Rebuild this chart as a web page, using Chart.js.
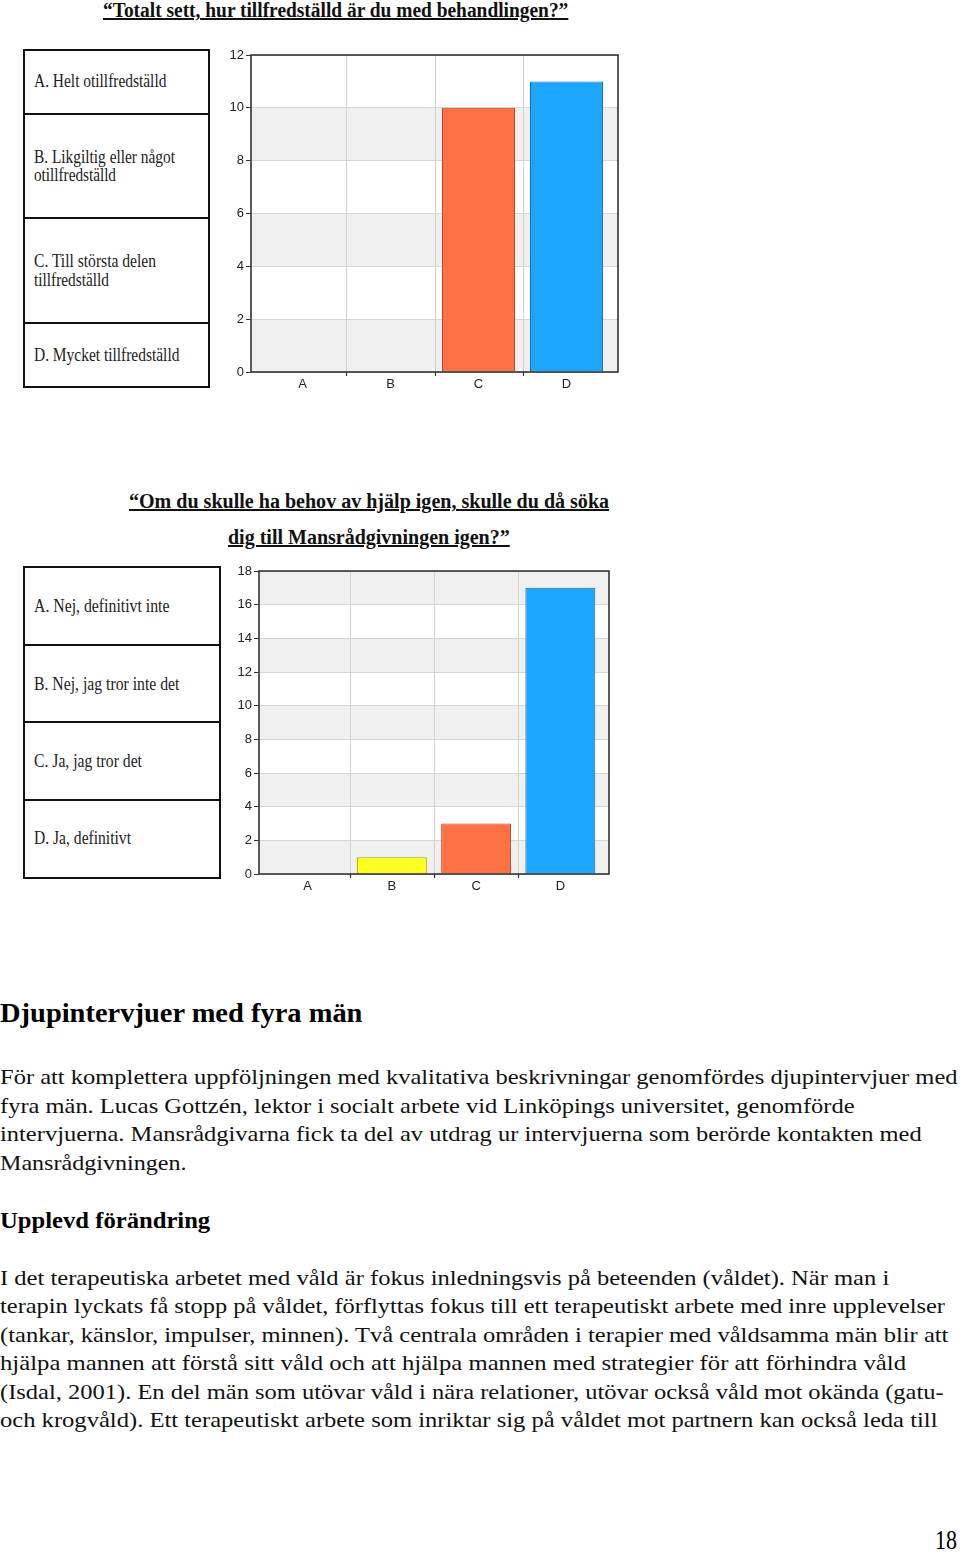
<!DOCTYPE html>
<html><head><meta charset="utf-8">
<script src="https://cdn.jsdelivr.net/npm/chart.js@4"></script>
<style>
body{margin:0;width:960px;height:1554px;position:relative;background:#fff;font-family:"Liberation Serif","Times New Roman",serif;color:#000;overflow:hidden}
.t{position:absolute;white-space:nowrap;transform-origin:0 0;line-height:1}
.title{font-weight:bold;font-size:20px;text-decoration:underline;color:#111}
.box{position:absolute;border:2px solid #111;box-sizing:border-box}
.hl{position:absolute;height:2px;background:#111}
.lbl{font-size:18px;color:#222}
.body{font-size:22px;color:#111}
.h1{font-size:28px;font-weight:bold}
.h2{font-size:23px;font-weight:bold}
.pn{font-size:27px}
canvas{position:absolute}
</style></head><body>

<div class="t title" data-x="103" data-y="12" data-w="465">“Totalt sett, hur tillfredställd är du med behandlingen?”</div>

<div class="box" style="left:23px;top:49px;width:187px;height:339px"></div>
<div class="hl" style="left:23px;top:113px;width:187px"></div>
<div class="hl" style="left:23px;top:217px;width:187px"></div>
<div class="hl" style="left:23px;top:322px;width:187px"></div>
<div class="t lbl" data-x="34" data-y="82" data-w="132">A. Helt otillfredställd</div>
<div class="t lbl" data-x="34" data-y="158" data-w="141">B. Likgiltig eller något</div>
<div class="t lbl" data-x="34" data-y="176" data-w="82">otillfredställd</div>
<div class="t lbl" data-x="34" data-y="262" data-w="122">C. Till största delen</div>
<div class="t lbl" data-x="34" data-y="281" data-w="75">tillfredställd</div>
<div class="t lbl" data-x="34" data-y="356" data-w="145">D. Mycket tillfredställd</div>

<canvas id="c1" width="440" height="360" style="left:200px;top:40px;width:440px;height:360px"></canvas>

<div class="t title" data-x="129" data-y="503" data-w="480">“Om du skulle ha behov av hjälp igen, skulle du då söka</div>
<div class="t title" data-x="228" data-y="539" data-w="282">dig till Mansrådgivningen igen?”</div>

<div class="box" style="left:23px;top:566px;width:198px;height:313px"></div>
<div class="hl" style="left:23px;top:644px;width:198px"></div>
<div class="hl" style="left:23px;top:721px;width:198px"></div>
<div class="hl" style="left:23px;top:799px;width:198px"></div>
<div class="t lbl" data-x="34" data-y="607" data-w="135">A. Nej, definitivt inte</div>
<div class="t lbl" data-x="34" data-y="685" data-w="145">B. Nej, jag tror inte det</div>
<div class="t lbl" data-x="34" data-y="762" data-w="108">C. Ja, jag tror det</div>
<div class="t lbl" data-x="34" data-y="839" data-w="97">D. Ja, definitivt</div>

<canvas id="c2" width="440" height="350" style="left:200px;top:555px;width:440px;height:350px"></canvas>

<div class="t h1" data-x="0" data-y="1015" data-w="362">Djupintervjuer med fyra män</div>
<div class="t body" data-x="0" data-y="1079" data-w="958">För att komplettera uppföljningen med kvalitativa beskrivningar genomfördes djupintervjuer med</div>
<div class="t body" data-x="0" data-y="1108" data-w="855">fyra män. Lucas Gottzén, lektor i socialt arbete vid Linköpings universitet, genomförde</div>
<div class="t body" data-x="0" data-y="1136" data-w="922">intervjuerna. Mansrådgivarna fick ta del av utdrag ur intervjuerna som berörde kontakten med</div>
<div class="t body" data-x="0" data-y="1165" data-w="186">Mansrådgivningen.</div>
<div class="t h2" data-x="0" data-y="1222" data-w="210">Upplevd förändring</div>
<div class="t body" data-x="0" data-y="1280" data-w="889">I det terapeutiska arbetet med våld är fokus inledningsvis på beteenden (våldet). När man i</div>
<div class="t body" data-x="0" data-y="1308" data-w="945">terapin lyckats få stopp på våldet, förflyttas fokus till ett terapeutiskt arbete med inre upplevelser</div>
<div class="t body" data-x="0" data-y="1337" data-w="948">(tankar, känslor, impulser, minnen). Två centrala områden i terapier med våldsamma män blir att</div>
<div class="t body" data-x="0" data-y="1365" data-w="906">hjälpa mannen att förstå sitt våld och att hjälpa mannen med strategier för att förhindra våld</div>
<div class="t body" data-x="0" data-y="1394" data-w="944">(Isdal, 2001). En del män som utövar våld i nära relationer, utövar också våld mot okända (gatu-</div>
<div class="t body" data-x="0" data-y="1422" data-w="937">och krogvåld). Ett terapeutiskt arbete som inriktar sig på våldet mot partnern kan också leda till</div>
<div class="t pn" data-x="935" data-y="1543" data-w="22">18</div>

<script>
// ---- data ----
const categories = ['A', 'B', 'C', 'D'];
const satisfactionValues = [0, 0, 10, 11];
const returnValues = [0, 1, 3, 17];
const satisfactionMax = 12;
const returnMax = 18;
const tickStep = 2;
const barColors = ['rgb(40,200,60)', 'rgb(255,255,32)', 'rgb(255,112,68)', 'rgb(30,166,255)'];
const barBorders = ['rgb(20,130,30)', 'rgb(170,170,0)', 'rgb(185,70,40)', 'rgb(20,110,190)'];

// ---- text fitting ----
document.querySelectorAll('.t').forEach(el => {
  const fs = parseFloat(getComputedStyle(el).fontSize);
  const w = el.offsetWidth;
  const tw = parseFloat(el.dataset.w);
  el.style.left = el.dataset.x + 'px';
  el.style.top = (parseFloat(el.dataset.y) - 0.58 * fs) + 'px';
  el.style.transform = 'scaleX(' + (tw / w) + ')';
});

// ---- chart helper plugin ----
const framePlugin = {
  id: 'frame',
  beforeDraw(chart) {
    const ctx = chart.ctx, a = chart.chartArea, y = chart.scales.y;
    ctx.save();
    ctx.fillStyle = '#f0f0f0';
    for (let v = 0; v < y.max; v += 2 * tickStep) {
      const top = y.getPixelForValue(Math.min(v + tickStep, y.max));
      const bot = y.getPixelForValue(v);
      ctx.fillRect(a.left, top, a.right - a.left, bot - top);
    }
    ctx.restore();
  },
  beforeDatasetsDraw(chart) {
    const ctx = chart.ctx, a = chart.chartArea, x = chart.scales.x;
    ctx.save();
    ctx.strokeStyle = '#d2d2d2';
    ctx.lineWidth = 1;
    for (let i = 0; i < categories.length - 1; i++) {
      const px = Math.round(x.getPixelForValue(i + 0.5)) + 0.5;
      ctx.beginPath(); ctx.moveTo(px, a.top); ctx.lineTo(px, a.bottom); ctx.stroke();
    }
    ctx.restore();
  },
  afterDraw(chart) {
    const ctx = chart.ctx, a = chart.chartArea, x = chart.scales.x;
    ctx.save();
    ctx.strokeStyle = '#333';
    ctx.lineWidth = 1.6;
    ctx.strokeRect(a.left, a.top, a.right - a.left, a.bottom - a.top);
    ctx.lineWidth = 1.2;
    for (let i = 0; i < categories.length - 1; i++) {
      const px = Math.round(x.getPixelForValue(i + 0.5)) + 0.5;
      ctx.beginPath(); ctx.moveTo(px, a.bottom); ctx.lineTo(px, a.bottom + 4); ctx.stroke();
    }
    ctx.restore();
  }
};

function makeChart(id, values, ymax, pad, xMargin, yW, xH) {
  new Chart(document.getElementById(id), {
    type: 'bar',
    data: {
      datasets: [{
        data: values.map((v, i) => ({ x: i, y: v })),
        backgroundColor: barColors,
        borderColor: barBorders,
        borderWidth: 1,
        barPercentage: 0.83,
        categoryPercentage: 1
      }]
    },
    options: {
      responsive: false,
      animation: false,
      devicePixelRatio: 1,
      layout: { padding: pad },
      plugins: { legend: { display: false }, tooltip: { enabled: false } },
      scales: {
        x: {
          type: 'linear',
          offset: false,
          min: -0.5 - xMargin,
          max: categories.length - 0.5 + xMargin,
          afterBuildTicks: s => { s.ticks = categories.map((c, i) => ({ value: i })); },
          afterFit: s => { s.height = xH; },
          grid: { display: false, drawTicks: false },
          border: { display: false },
          ticks: {
            callback: v => categories[v],
            font: { family: 'Liberation Sans', size: 13 },
            color: '#222',
            padding: 5,
            maxRotation: 0
          }
        },
        y: {
          min: 0,
          max: ymax,
          afterFit: s => { s.width = yW; },
          border: { display: false },
          grid: { color: '#d6d6d6', tickColor: '#333', tickLength: 5, lineWidth: 1 },
          ticks: {
            stepSize: tickStep,
            font: { family: 'Liberation Sans', size: 13 },
            color: '#222',
            padding: 2
          }
        }
      }
    },
    plugins: [framePlugin]
  });
}

makeChart('c1', satisfactionValues, satisfactionMax, { left: 11, top: 15, right: 22, bottom: 0 }, 0.085, 40, 28);
makeChart('c2', returnValues, returnMax, { left: 19, top: 16, right: 31, bottom: 0 }, 0.078, 40, 31);
</script>
</body></html>
